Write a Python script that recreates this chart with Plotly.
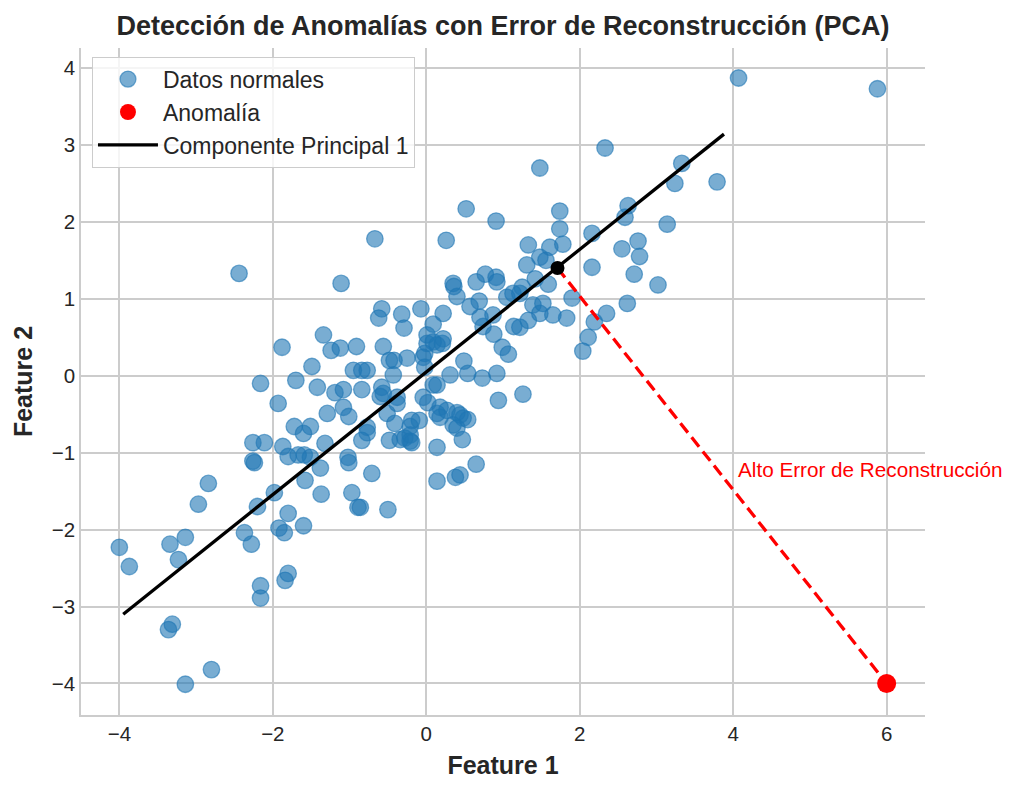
import plotly.graph_objects as go

# Normal data points (Feature 1, Feature 2)
normal_x = [4.07, 5.88, 1.48, 2.33, 3.33, 3.24, 3.79, 0.52, 0.91, 0.26, -0.67, -2.44, -1.11,
            1.74, 2.63, 2.59, 3.14, 1.74, 2.16, 1.33, 1.61, 1.78, 1.48, 1.56, 1.31, 2.55, 2.76,
            2.78, 2.16, 2.71, 3.02, 1.59, 1.42, 1.25, 1.90, 2.62, 2.35, 2.19, 2.11, 1.83, 1.39,
            1.52, 1.65, 1.33, 1.22, 2.04, 0.35, 0.36, 0.40, 0.65, 0.77, 0.91, 0.92, 0.69, 0.57,
            1.05, 1.13, 1.22, -0.58, -0.62, -0.32, -0.29, -0.07, 0.22, 0.09, 0.70, 0.74, 0.87,
            0.88, 1.14, 0.99, 1.07, -1.34, -1.24, -1.12, -0.91, -0.56, 0.01, 0.01, 0.09, 0.22,
            0.21, 0.14, -0.02, -0.48, -0.42, -0.25, -1.49, -0.95, -0.84, -0.77, -0.02, 0.49,
            0.31, 0.54, 0.73, 0.92, -0.43, 1.48, -0.04, -1.42, -1.19, -1.08, -0.84, -0.58, -0.60,
            -0.38, -0.38, -1.29, -1.08, -1.01, -1.51, -1.60, -1.32, -0.77, -0.77, -0.84, -0.51,
            -0.41, -0.48, -0.34, -0.28, -0.21, -0.21, -0.21, -0.09, -0.04, 0.02, 0.09, 0.14,
            0.18, 0.14, 0.18, 0.27, 0.40, 0.44, 0.48, 0.54, 0.35, 0.40, 0.47, 0.14, 0.94, 1.26,
            0.65, 0.38, 0.44, 0.14, -1.51, -1.38, -1.02, -1.01, -0.71, -1.58, -1.37, -0.97,
            -0.89, -0.86, -0.50, -1.60, -0.56, -0.19, -0.19, -1.88, -2.16, -1.70, -1.93, -1.72,
            -2.26, -2.11, -1.87, -1.80, -1.67, -1.59, -2.26, -2.24, -2.84, -2.97, -1.98, -2.20,
            -1.80, -1.92, -1.85, -2.37, -3.14, -2.28, -4.00, -3.34, -3.87, -3.23, -2.16, -2.16,
            -1.80, -1.84, -3.31, -3.36, -2.80, -3.14]
normal_y = [3.87, 3.73, 2.70, 2.96, 2.76, 2.50, 2.52, 2.17, 2.01, 1.76, 1.78, 1.33, 1.20,
            2.14, 2.21, 2.06, 1.97, 1.91, 1.85, 1.70, 1.67, 1.71, 1.54, 1.50, 1.44, 1.65, 1.75,
            1.55, 1.41, 1.32, 1.18, 1.19, 1.26, 1.15, 1.01, 0.94, 0.81, 0.70, 0.50, 0.75, 0.92,
            0.94, 0.79, 0.72, 0.63, 0.32, 1.20, 1.16, 1.03, 1.22, 1.32, 1.28, 1.22, 0.97, 0.90,
            1.02, 1.07, 1.07, 0.87, 0.75, 0.80, 0.62, 0.87, 0.81, 0.67, 0.76, 0.64, 0.79,
            0.54, 0.64, 0.37, 0.28, 0.53, 0.33, 0.36, 0.38, 0.38, 0.53, 0.42, 0.44, 0.48,
            0.42, 0.40, 0.29, 0.20, 0.20, 0.23, 0.12, 0.07, 0.07, 0.07, 0.11, 0.19,
            0.01, 0.03, -0.03, 0.03, 0.01, 0.81, 0.24, -0.15, -0.22, -0.18, -0.18, -0.15, -0.27,
            -0.28, -0.36, -0.49, -0.41, -0.53, -0.66, -0.75, -0.88, -0.67, -0.74, -0.84, -0.49,
            -0.62, -0.84, -0.83, -0.81, -0.77, -0.85, -0.66, -0.58, -0.28, -0.35, -0.12, -0.12,
            -0.41, -0.49, -0.54, -0.45, -0.48, -0.51, -0.55, -0.57, -0.64, -0.68, -0.83, -0.93, -0.32, -0.24,
            -1.15, -1.32, -1.29, -1.37, -1.06, -1.20, -1.06, -1.13, -1.27, -1.36, -1.54, -1.52,
            -1.71, -1.71, -1.74, -1.95, -0.23, -0.58, -0.87, 0.37, -0.10, -0.06, -0.36, -0.66,
            -0.87, -0.87, -0.92, -1.05, -1.03, -1.03, -1.11, -1.13, -1.40, -1.67, -1.52, -1.70,
            -1.79, -1.98, -2.04, -2.04, -2.10, -2.19, -2.23, -2.19, -2.48, -2.39, -2.73, -2.89,
            -2.57, -2.66, -3.23, -3.30, -3.82, -4.01]

anomaly_x = [6.0]
anomaly_y = [-4.0]

pc1_x = [-3.95, 3.88]
pc1_y = [-3.10, 3.14]

proj_x = [1.71]
proj_y = [1.40]

annotation_text = "Alto Error de Reconstrucción"
annotation_pos = (4.04, -1.22)

FONT = "Liberation Sans"
TXT = "#262626"

fig = go.Figure()

fig.add_trace(go.Scatter(
    x=normal_x, y=normal_y, mode="markers", name="Datos normales",
    marker=dict(size=16.5, color="rgba(31,119,180,0.6)",
                line=dict(color="rgba(31,119,180,0.6)", width=1.3)),
    legendrank=1, legendgroup="a"))

fig.add_trace(go.Scatter(
    x=pc1_x, y=pc1_y, mode="lines", name="Componente Principal 1",
    line=dict(color="black", width=3.3), legendrank=3, legendgroup="c"))

fig.add_trace(go.Scatter(
    x=[proj_x[0], anomaly_x[0]], y=[proj_y[0], anomaly_y[0]], mode="lines",
    line=dict(color="red", width=3.3, dash="12px,6px"), showlegend=False))

fig.add_trace(go.Scatter(
    x=anomaly_x, y=anomaly_y, mode="markers", name="Anomalía",
    marker=dict(size=19, color="red"), legendrank=2, legendgroup="b"))

fig.add_trace(go.Scatter(
    x=proj_x, y=proj_y, mode="markers",
    marker=dict(size=14, color="black"), showlegend=False))

fig.add_annotation(x=annotation_pos[0], y=annotation_pos[1], text=annotation_text,
                   showarrow=False, xanchor="left", yanchor="middle",
                   font=dict(family=FONT, size=20.7, color="red"))

axis_common = dict(showgrid=True, gridcolor="#cccccc", gridwidth=1.5, zeroline=False,
                   showline=True, linecolor="#cccccc", linewidth=1.5, ticks="",
                   tickfont=dict(family=FONT, size=20.5, color=TXT))

fig.update_layout(
    width=1019, height=792,
    margin=dict(l=81, r=94, t=48, b=77),
    paper_bgcolor="white", plot_bgcolor="white",
    title=dict(text="<b>Detección de Anomalías con Error de Reconstrucción (PCA)</b>",
               x=503 / 1019, xanchor="center", y=0.968, yanchor="middle",
               font=dict(family=FONT, size=27, color=TXT)),
    xaxis=dict(range=[-4.5, 6.5], tickvals=[-4, -2, 0, 2, 4, 6],
               title=dict(text="<b>Feature 1</b>", font=dict(family=FONT, size=25, color=TXT), standoff=12),
               **axis_common),
    yaxis=dict(range=[-4.41, 4.26], tickvals=[-4, -3, -2, -1, 0, 1, 2, 3, 4],
               title=dict(text="<b>Feature 2</b>", font=dict(family=FONT, size=25, color=TXT), standoff=12),
               **axis_common),
    legend=dict(x=0.013, y=0.987, xanchor="left", yanchor="top",
                bgcolor="rgba(255,255,255,0.8)", bordercolor="#cccccc", borderwidth=1,
                font=dict(family=FONT, size=23, color=TXT), tracegroupgap=0,
                itemwidth=60),
    showlegend=True,
)

fig.write_html("out.html")
